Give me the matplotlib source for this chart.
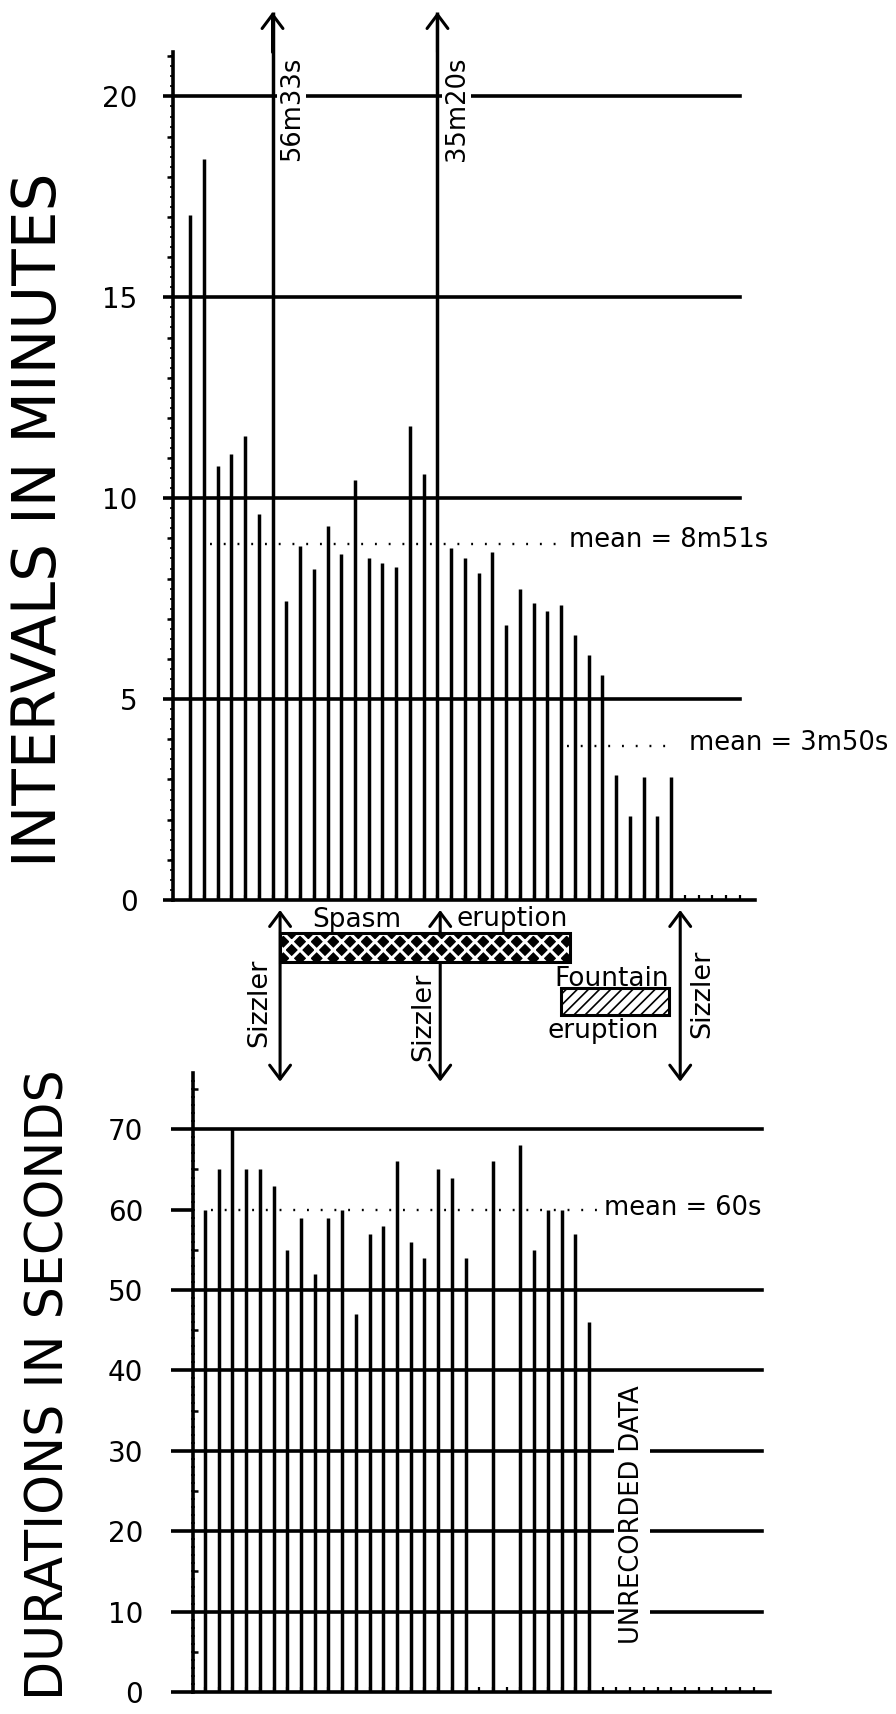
import matplotlib
matplotlib.use("Agg")
import matplotlib.pyplot as plt
from matplotlib.patches import Rectangle
from matplotlib.ticker import FixedLocator
import numpy as np

# intervals between eruptions, in minutes (two are off the scale)
intervals = [17.05, 18.45, 10.8, 11.1, 11.55, 9.6, 56 + 33 / 60, 7.45, 8.8, 8.25,
             9.3, 8.6, 10.45, 8.5, 8.4, 8.3, 11.8, 10.6, 35 + 20 / 60, 8.75,
             8.5, 8.15, 8.65, 6.85, 7.75, 7.4, 7.2, 7.35, 6.6, 6.1,
             5.6, 3.1, 2.1, 3.05, 2.1, 3.05]
# eruption durations, in seconds (nan = not recorded)
durations = [60, 65, 70, 65, 65, 63, 55, 59, 52, 59,
             60, 47, 57, 58, 66, 56, 54, 65, 64, 54,
             np.nan, 66, np.nan, 68, 55, 60, 60, 57, 46]
n_slots = 41

interval_ticks = [0, 5, 10, 15, 20]
interval_lines = [5, 10, 15, 20]
duration_ticks = [0, 10, 20, 30, 40, 50, 60, 70]
duration_lines = [10, 20, 30, 40, 50, 70]

spasm_mean = 8 + 51 / 60
fountain_mean = 3 + 50 / 60
duration_mean = 60

# eruption types along the slot axis
sizzlers = [7.55, 19.2, 36.66]
spasm = (7.55, 28.66)
fountain = (28.0, 35.86)


def mmss(v):
    m, s = divmod(round(v * 60), 60)
    return f"{m}m{s}s"


plt.rcParams["font.family"] = "DejaVu Sans"
plt.rcParams["hatch.linewidth"] = 1.2

W, H = 896, 1714
fig = plt.figure(figsize=(W / 100, H / 100), dpi=100)


def box(l, t, r, b):
    return [l / W, 1 - b / H, (r - l) / W, (b - t) / H]


BAR = 2.5
LINE = 2.6
DOT_LW = 1.7

ax1 = fig.add_axes(box(173, 0, 755, 900))
ax2 = fig.add_axes(box(193, 1073, 770, 1692))
for ax in (ax1, ax2):
    ax.patch.set_visible(False)
    for s in ("top", "right"):
        ax.spines[s].set_visible(False)
    for s in ("left", "bottom"):
        ax.spines[s].set_linewidth(LINE)
    ax.set_xticks(np.arange(1, n_slots + 1))
    ax.tick_params(axis="x", length=3.5, width=1.6, direction="in", labelbottom=False)


def dots(ax):
    # one dot per slot, so the dots sit between the bars
    x0, x1 = ax.get_xlim()
    slot_pt = ax.get_position().width * W * 0.72 / (x1 - x0)
    on = 0.8
    return (0, (on, slot_pt / DOT_LW - on))


# ---------------- intervals ----------------
cap = 22.1
ax1.set_xlim(-0.24, 42.1)
ax1.set_ylim(0, 22.4)
x1 = np.arange(1, len(intervals) + 1)
v1 = np.array(intervals)
ax1.vlines(x1, 0, np.minimum(v1, cap), color="k", lw=BAR, zorder=2)
head = dict(lw=2.2, color="k", shrinkA=0, shrinkB=0, mutation_scale=25)
for x, v in zip(x1, v1):
    if v > cap:
        ax1.annotate("", xy=(x, cap), xytext=(x, cap - 1),
                     arrowprops=dict(arrowstyle="->,head_length=0.4,head_width=0.3", **head))
        ax1.text(x + 1.4, 19.7, mmss(v), rotation=90, ha="center", va="center",
                 fontsize=18.5, zorder=5, bbox=dict(fc="white", ec="none", pad=1))

for g in interval_lines:
    ax1.axhline(g, 0, 0.975, color="k", lw=LINE, zorder=1)

ax1.hlines(spasm_mean, 2.45, 28.4, color="k", lw=DOT_LW, linestyles=dots(ax1), zorder=3)
ax1.text(28.55, spasm_mean + 0.1, f"mean = {mmss(spasm_mean)}", fontsize=18.5,
         ha="left", va="center")
ax1.hlines(fountain_mean, 28.45, 36.3, color="k", lw=DOT_LW, linestyles=dots(ax1), zorder=3)
ax1.text(37.3, fountain_mean + 0.07, f"mean = {mmss(fountain_mean)}", fontsize=18.5,
         ha="left", va="center")

ax1.spines["left"].set_bounds(0, 21.1)
ax1.set_yticks(interval_ticks)
ax1.yaxis.set_minor_locator(FixedLocator(np.arange(0, 21.5, 1)))
ax1.tick_params(axis="y", which="major", length=7.5, width=LINE, pad=18, labelsize=20)
ax1.tick_params(axis="y", which="minor", length=4.5, width=1.8)
fine1 = ax1.secondary_yaxis("left")
fine1.spines["left"].set_visible(False)
fine1.set_yticks(np.arange(0, 21.2, 0.25))
fine1.tick_params(length=2, width=1.2, labelleft=False)

# ---------------- eruption types (between the panels) ----------------
for sx in sizzlers:
    ax1.annotate("", xy=(sx, -0.25), xytext=(sx, -4.52), annotation_clip=False,
                 arrowprops=dict(arrowstyle="<->,head_length=0.4,head_width=0.3", **head))
sizzler_dx = [-1.5, -1.25, 1.6]
sizzler_y = [-2.56, -2.91, -2.34]
for sx, dx, sy in zip(sizzlers, sizzler_dx, sizzler_y):
    ax1.text(sx + dx, sy, "Sizzler", rotation=90, ha="center", va="center", fontsize=19.5)

with plt.rc_context({"hatch.linewidth": 2.2}):
    ax1.add_patch(Rectangle((spasm[0], -1.54), spasm[1] - spasm[0], 0.72, fc="black",
                            ec="white", lw=0, hatch="xx", clip_on=False, zorder=3))
ax1.add_patch(Rectangle((spasm[0], -1.54), spasm[1] - spasm[0], 0.72, fill=False,
                        ec="black", lw=2.2, clip_on=False, zorder=4))
ax1.add_patch(Rectangle((fountain[0], -2.86), fountain[1] - fountain[0], 0.67, fc="white",
                        ec="black", lw=2.2, hatch="///", clip_on=False, zorder=3))
ax1.text(13.1, -0.5, "Spasm", fontsize=19, ha="center", va="center")
ax1.text(24.4, -0.47, "eruption", fontsize=19, ha="center", va="center")
ax1.text(31.7, -1.97, "Fountain", fontsize=19, ha="center", va="center")
ax1.text(31.07, -3.25, "eruption", fontsize=19, ha="center", va="center")

# ---------------- durations ----------------
ax2.set_xlim(0.125, 42.2)
ax2.set_ylim(0, 77)
x2 = np.arange(1, len(durations) + 1)
v2 = np.array(durations, dtype=float)
ok = ~np.isnan(v2)
ax2.vlines(x2[ok], 0, v2[ok], color="k", lw=BAR, zorder=2)
for g in duration_lines:
    ax2.axhline(g, 0, 0.986, color="k", lw=LINE, zorder=1)
ax2.hlines(duration_mean, 1.45, 30.05, color="k", lw=DOT_LW, linestyles=dots(ax2), zorder=3)
ax2.text(30.1, duration_mean + 0.2, f"mean = {duration_mean}s", fontsize=18.5,
         ha="left", va="center")
ax2.text(32.15, 22.1, "UNRECORDED DATA", rotation=90, ha="center", va="center",
         fontsize=18.5, zorder=5, bbox=dict(fc="white", ec="none", pad=3.5))

ax2.set_yticks(duration_ticks)
ax2.yaxis.set_minor_locator(FixedLocator(np.arange(5, 76, 10)))
ax2.tick_params(axis="y", which="major", length=16, width=LINE, pad=20, labelsize=20)
ax2.tick_params(axis="y", which="minor", length=3.5, width=1.8, direction="in")
fine2 = ax2.secondary_yaxis("left")
fine2.spines["left"].set_visible(False)
fine2.set_yticks(np.arange(0, 77, 1))
fine2.tick_params(length=2.2, width=1.2, direction="inout", labelleft=False)

fig.text(40 / W, 1 - 520 / H, "INTERVALS IN MINUTES", rotation=90,
         ha="center", va="center", fontsize=43)
fig.text(50 / W, 1 - 1385 / H, "DURATIONS IN SECONDS", rotation=90,
         ha="center", va="center", fontsize=36.5)

fig.savefig("out.png", dpi=100)
